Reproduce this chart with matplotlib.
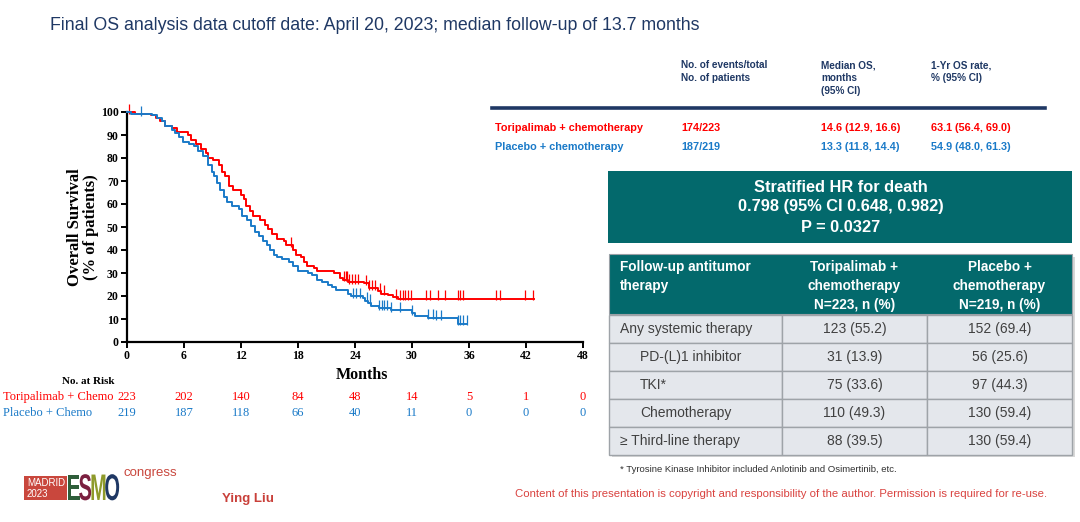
import numpy as np
import matplotlib
matplotlib.use('agg')
import matplotlib.pyplot as plt
import matplotlib.transforms as mtransforms
from matplotlib.patches import Rectangle, PathPatch
from matplotlib.textpath import TextPath
from matplotlib.font_manager import FontProperties

## KM data (months, % surviving)
red_t = [0, 0.8, 2.5, 3.0, 3.5, 4.0, 4.7, 5.3, 6.4, 6.7, 7.3, 7.8, 8.3, 8.5, 9.0, 9.7, 10.0, 10.3,
         10.7, 11.2, 12.0, 12.3, 12.5, 12.9, 13.3, 14.0, 14.5, 14.8, 15.3, 15.8, 16.5, 16.7, 17.5,
         17.8, 18.3, 18.6, 18.9, 19.7, 20.0, 21.8, 22.4, 22.7, 23.3, 24.9, 25.5, 26.4, 26.7, 27.5,
         28.0, 28.5, 42.8]
red_s = [100, 99, 98.5, 97.5, 96, 94, 93, 91.5, 90, 88, 86, 84, 82, 80, 79, 77, 74, 72,
         68, 66, 64, 62, 59, 57, 55, 53, 51, 49, 47, 45, 44, 42, 40,
         38, 37, 35, 33, 32, 31, 30, 28, 27, 26, 25.5, 23.5, 22, 21, 20.5,
         19.5, 18.8, 18.8]

blue_t = [0, 0.4, 2.6, 3.2, 3.7, 4.0, 4.7, 5.1, 5.5, 5.9, 6.5, 7.0, 7.5, 8.0, 8.5, 8.9, 9.2,
          9.5, 9.8, 10.2, 10.5, 11.0, 11.8, 12.1, 12.6, 13.1, 13.5, 13.9, 14.3, 14.7, 15.1, 15.5,
          15.8, 16.3, 17.0, 17.5, 18.0, 19.0, 19.5, 20.0, 20.5, 21.2, 21.6, 22.0, 23.3, 23.6,
          24.8, 25.1, 25.4, 25.7, 26.5, 27.8, 30.0, 30.3, 31.7, 32.5, 34.8, 35.8]
blue_s = [100, 99, 98.5, 97.5, 96, 94, 92, 91, 89, 87, 86, 85, 83, 81, 77, 74, 72,
          69, 66, 63, 61, 59, 58, 55, 53, 50.5, 48, 46, 44, 42, 40, 38,
          37, 36, 35, 33, 31, 30, 29, 27, 26, 25, 24, 22.5, 21, 20,
          19, 18, 17, 15.5, 14.8, 13.7, 12.5, 11.2, 10.5, 10.3, 8.0, 8.0]

red_cens = [0.2, 17.3, 22.8, 23.0, 23.2, 23.4, 23.7, 24.0, 24.3, 25.2, 25.5, 25.8, 26.1, 26.6,
            27.0, 28.3, 28.7, 29.0, 29.3, 29.6, 29.9, 31.5, 31.9, 32.7, 33.5, 34.8, 35.1, 35.4,
            38.8, 39.3, 41.9, 42.7]
blue_cens = [1.5, 23.8, 24.1, 24.5, 25.3, 25.6, 26.5, 26.8, 27.1, 27.4, 27.8, 28.7, 30.0,
             31.7, 32.2, 32.5, 33.0, 34.8, 35.1, 35.4, 35.8]

risk_times = [0, 6, 12, 18, 24, 30, 36, 42, 48]
risk_red = [223, 202, 140, 84, 48, 14, 5, 1, 0]
risk_blue = [219, 187, 118, 66, 40, 11, 0, 0, 0]

## summary table
sum_header = ["No. of events/total\nNo. of patients", "Median OS,\nmonths\n(95% CI)", "1-Yr OS rate,\n% (95% CI)"]
sum_arms = ["Toripalimab + chemotherapy", "Placebo + chemotherapy"]
sum_events = ["174/223", "187/219"]
sum_median = ["14.6 (12.9, 16.6)", "13.3 (11.8, 14.4)"]
sum_1yr = ["63.1 (56.4, 69.0)", "54.9 (48.0, 61.3)"]

hr_lines = ["Stratified HR for death", "0.798 (95% CI 0.648, 0.982)", "P = 0.0327"]

fu_header = ["Follow-up antitumor\ntherapy", "Toripalimab +\nchemotherapy\nN=223, n (%)", "Placebo +\nchemotherapy\nN=219, n (%)"]
fu_labels = ["Any systemic therapy", "PD-(L)1 inhibitor", "TKI*", "Chemotherapy", "\u2265 Third-line therapy"]
fu_indent = [0, 1, 1, 1, 0]
fu_tori = ["123 (55.2)", "31 (13.9)", "75 (33.6)", "110 (49.3)", "88 (39.5)"]
fu_plac = ["152 (69.4)", "56 (25.6)", "97 (44.3)", "130 (59.4)", "130 (59.4)"]

RED = '#FF0000'
BLUE = '#1A7AC8'
NAVY = '#1F3864'
TEAL = '#03696C'
SERIF = 'Liberation Serif'
SANS = 'Liberation Sans'
NARROW = ['Liberation Sans Narrow', 'Liberation Sans']

fig = plt.figure(figsize=(10.8, 5.22), dpi=100)
# pixel coordinates (origin top-left) -> figure
px = mtransforms.Affine2D().scale(1/1080, -1/522).translate(0, 1) + fig.transFigure

fig.text(50, 25, "Final OS analysis data cutoff date: April 20, 2023; median follow-up of 13.7 months",
         transform=px, fontsize=12.8, color=NAVY, family=SANS, va='center', ha='left')

## KM plot
ax = fig.add_axes([127/1080, 1-342/522, (583-127)/1080, (342-112)/522])
for t, s, c, col in [(red_t, red_s, red_cens, RED), (blue_t, blue_s, blue_cens, BLUE)]:
    t = np.array(t); s = np.array(s)
    ax.step(t, s, where='post', color=col, lw=1.4, clip_on=False, zorder=3)
    idx = np.searchsorted(t, np.array(c), side='right') - 1
    ax.plot(c, s[idx] + 1.5, ls='none', marker='|', ms=7, mew=0.9, color=col, clip_on=False, zorder=3)

ax.set_xlim(0, 48)
ax.set_ylim(0, 100)
ax.set_xticks(np.arange(0, 49, 6))
ax.set_yticks(np.arange(0, 101, 10))
for sp in ['top', 'right']:
    ax.spines[sp].set_visible(False)
for sp in ['left', 'bottom']:
    ax.spines[sp].set_linewidth(1.6)
ax.tick_params(direction='out', length=4, width=1.4, pad=2)
for lab in ax.get_xticklabels() + ax.get_yticklabels():
    lab.set_family(SERIF); lab.set_fontweight('bold'); lab.set_fontsize(8.5)
ax.set_ylabel("Overall Survival\n(% of patients)", family=SERIF, fontweight='bold', fontsize=12,
              linespacing=1.0, labelpad=1)
fig.text(362, 375, "Months", transform=px, family=SERIF, fontweight='bold', fontsize=11.5, ha='center', va='center')

## number at risk
fig.text(88, 381, "No. at Risk", transform=px, family=SERIF, fontweight='bold', fontsize=8, ha='center', va='center')
fig.text(3, 397, "Toripalimab + Chemo", transform=px, family=SERIF, fontsize=9, color=RED, va='center')
fig.text(3, 413, "Placebo + Chemo", transform=px, family=SERIF, fontsize=9, color=BLUE, va='center')
rt = mtransforms.blended_transform_factory(ax.transData, px)
for x, r, b in zip(risk_times, risk_red, risk_blue):
    ax.text(x, 397, str(r), transform=rt, family=SERIF, fontsize=9, color=RED, ha='center', va='center', clip_on=False)
    ax.text(x, 413, str(b), transform=rt, family=SERIF, fontsize=9, color=BLUE, ha='center', va='center', clip_on=False)

## summary table top right
col_x = [681, 821, 931]
for x, h in zip(col_x, sum_header):
    fig.text(x, 60, h, transform=px, family=SANS, fontweight='bold', fontsize=7.2, color=NAVY,
             va='top', ha='left', linespacing=1.35)
fig.add_artist(plt.Line2D([492/1080, 1045/1080], [1-108/522, 1-108/522], color=NAVY, lw=2.6))
for i, col in enumerate([RED, BLUE]):
    y = 128 + i * 19
    fig.text(495, y, sum_arms[i], transform=px, family=SANS, fontweight='bold', fontsize=7.8, color=col, va='center')
    for x, v in zip(col_x, [sum_events[i], sum_median[i], sum_1yr[i]]):
        fig.text(x, y, v, transform=px, family=SANS, fontweight='bold', fontsize=7.8, color=col, va='center')

## HR box
fig.add_artist(Rectangle((608, 171), 464, 72, transform=px, facecolor=TEAL, edgecolor='none'))
for i, line in enumerate(hr_lines):
    fig.text(841, 187 + i * 20, line, transform=px, family=SANS, fontweight='bold', fontsize=11.8,
             color='white', ha='center', va='center')

## follow-up therapy table
tx0, tx1 = 609, 1072
cx = [609, 782, 927, 1072]
fig.add_artist(Rectangle((tx0 + 3, 257), tx1 - tx0, 200, transform=px, facecolor='#D8D8D8', edgecolor='none'))
fig.add_artist(Rectangle((tx0, 254), tx1 - tx0, 60, transform=px, facecolor=TEAL, edgecolor='#9AA0A6', lw=0.8))
fig.text(620, 260, fu_header[0], transform=px, family=SANS, fontweight='bold', fontsize=9.8, color='white',
         va='top', ha='left', linespacing=1.45)
for j, h in enumerate(fu_header[1:]):
    fig.text((cx[j + 1] + cx[j + 2]) / 2, 260, h, transform=px, family=SANS, fontweight='bold', fontsize=9.8,
             color='white', va='top', ha='center', linespacing=1.45)
row_h = 28
for i in range(len(fu_labels)):
    y0 = 315 + i * row_h
    for j in range(3):
        fig.add_artist(Rectangle((cx[j], y0), cx[j + 1] - cx[j], row_h, transform=px,
                                 facecolor='#E4E7EC', edgecolor='#9EA3A8', lw=1.0))
    yc = y0 + row_h / 2
    fig.text(620 + 20 * fu_indent[i], yc, fu_labels[i], transform=px, family=SANS, fontsize=10,
             color='#404040', va='center')
    fig.text((cx[1] + cx[2]) / 2, yc, fu_tori[i], transform=px, family=SANS, fontsize=10,
             color='#404040', va='center', ha='center')
    fig.text((cx[2] + cx[3]) / 2, yc, fu_plac[i], transform=px, family=SANS, fontsize=10,
             color='#404040', va='center', ha='center')

fig.text(620, 469, "* Tyrosine Kinase Inhibitor included Anlotinib and Osimertinib, etc.", transform=px,
         family=NARROW, fontsize=6.8, color='#303030', va='center')
fig.text(1047, 494, "Content of this presentation is copyright and responsibility of the author. Permission is required for re-use.",
         transform=px, family=NARROW, fontsize=8.2, color='#D9423F', va='center', ha='right')
fig.text(222, 499, "Ying Liu", transform=px, family=SANS, fontweight='bold', fontsize=9.5, color='#C9403A', va='center')

## ESMO logo
fig.add_artist(Rectangle((24, 476), 43, 24, transform=px, facecolor='#C9473D', edgecolor='none'))
fig.text(27, 482.5, "MADRID", transform=px, family=NARROW, fontsize=7, color='white', va='center')
fig.text(27, 494, "2023", transform=px, family=NARROW, fontsize=7, color='white', va='center')
logo_cols = ['#2F5E3A', '#7B2040', '#8E9A2B', '#1F3864']
fp = FontProperties(family='Liberation Sans', weight='bold')
xk = 67
for letter, c in zip("ESMO", logo_cols):
    tp = TextPath((0, 0), letter, size=1, prop=fp)
    w = tp.get_extents().x1
    tr = mtransforms.Affine2D().scale(20, -37).translate(xk, 500) + px
    fig.add_artist(PathPatch(tp, transform=tr, facecolor=c, edgecolor='none'))
    xk += w * 20 - 1
fig.text(124, 473, "congress", transform=px, family=NARROW, fontsize=9.5, color='#C9473D', va='center')

fig.savefig('out.png', dpi=100)
